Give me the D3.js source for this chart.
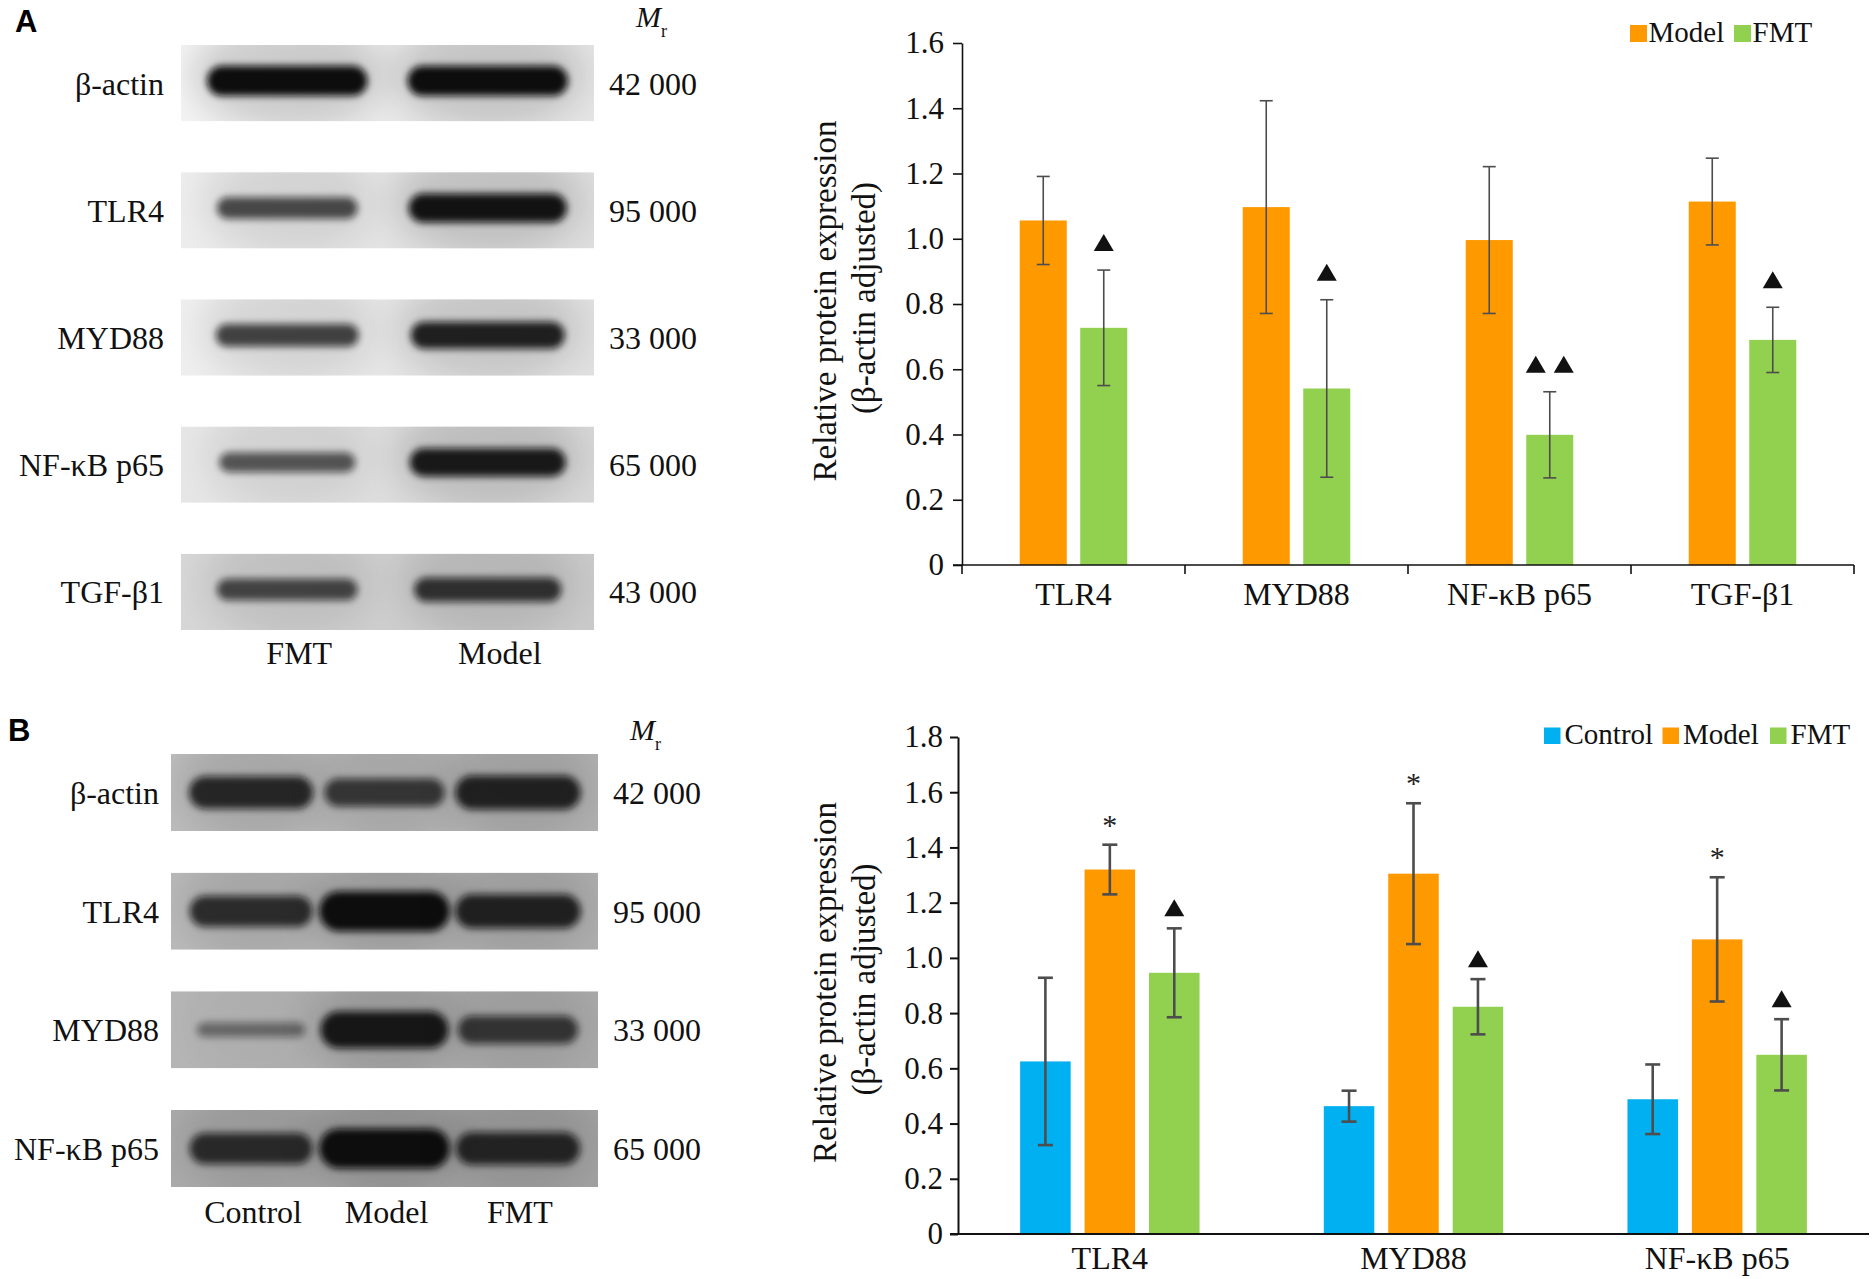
<!DOCTYPE html>
<html>
<head>
<meta charset="utf-8">
<script src="https://cdn.jsdelivr.net/npm/d3@7"></script>
<style>
  body { margin: 0; background: #fff; overflow: hidden; }
  svg { display: block; font-family: "Liberation Serif", "Times New Roman", serif; }
</style>
</head>
<body>
<script>
// ---- Panel A data ----
var catsA = ["TLR4", "MYD88", "NF-κB p65", "TGF-β1"];
var seriesA = ["Model", "FMT"];
var modelA = [1.056, 1.097, 0.996, 1.114];
var modelErrA = [0.135, 0.326, 0.225, 0.133];
var fmtA = [0.727, 0.541, 0.399, 0.690];
var fmtErrA = [0.177, 0.272, 0.132, 0.100];
var marksA = [["", "", "", ""], ["▲", "▲", "▲▲", "▲"]];
var ticksA = [0, 0.2, 0.4, 0.6, 0.8, 1.0, 1.2, 1.4, 1.6];

// ---- Panel B data ----
var catsB = ["TLR4", "MYD88", "NF-κB p65"];
var seriesB = ["Control", "Model", "FMT"];
var controlB = [0.625, 0.463, 0.488];
var controlErrB = [0.303, 0.056, 0.126];
var modelB = [1.320, 1.305, 1.067];
var modelErrB = [0.090, 0.255, 0.225];
var fmtB = [0.946, 0.823, 0.649];
var fmtErrB = [0.161, 0.100, 0.129];
var marksB = [["", "", ""], ["*", "*", "*"], ["▲", "▲", "▲"]];
var ticksB = [0, 0.2, 0.4, 0.6, 0.8, 1.0, 1.2, 1.4, 1.6, 1.8];

// ---- Western blots (relative band strength per lane) ----
var blotLanesA = ["FMT", "Model"];
var blotRowsA = ["β-actin", "TLR4", "MYD88", "NF-κB p65", "TGF-β1"];
var blotMrA = ["42 000", "95 000", "33 000", "65 000", "43 000"];
var bandsA = [[1.0, 1.0], [0.55, 0.95], [0.6, 0.85], [0.45, 0.9], [0.55, 0.7]];
var blotLanesB = ["Control", "Model", "FMT"];
var blotRowsB = ["β-actin", "TLR4", "MYD88", "NF-κB p65"];
var blotMrB = ["42 000", "95 000", "33 000", "65 000"];
var bandsB = [[0.75, 0.6, 0.8], [0.7, 1.0, 0.8], [0.15, 0.9, 0.6], [0.7, 1.0, 0.75]];

var colors = { Control: "#00B0F0", Model: "#FF9900", FMT: "#92D050" };

var W = 1874, H = 1279;
var svg = d3.select("body").append("svg")
    .attr("width", W)
    .attr("height", H);

var defs = svg.append("defs");
defs.append("filter").attr("id", "blur")
    .attr("x", "-30%").attr("y", "-100%").attr("width", "160%").attr("height", "300%")
    .append("feGaussianBlur").attr("stdDeviation", 3.5);
defs.append("filter").attr("id", "haze")
    .attr("x", "-50%").attr("y", "-100%").attr("width", "200%").attr("height", "300%")
    .append("feGaussianBlur").attr("stdDeviation", 16);

// Panel letters
svg.append("text").attr("x", 15).attr("y", 32)
    .style("font-family", "'Liberation Sans', Arial, sans-serif")
    .style("font-weight", "bold").style("font-size", "31px").text("A");
svg.append("text").attr("x", 8).attr("y", 741)
    .style("font-family", "'Liberation Sans', Arial, sans-serif")
    .style("font-weight", "bold").style("font-size", "31px").text("B");

// ---- Blot drawing ----
function drawBlot(cfg) {
    var g = svg.append("g");
    var y = d3.scaleBand().domain(cfg.rows).range(cfg.yRange).paddingInner(cfg.rowPad);
    var x = d3.scalePoint().domain(cfg.lanes).range(cfg.xRange).padding(cfg.lanePad);
    var bw = d3.scaleLinear().domain([0, 1]).range(cfg.bandW.map(function(f) { return f * x.step(); }));
    var bh = d3.scaleLinear().domain([0, 1]).range(cfg.bandH);
    var op = d3.scaleLinear().domain([0, 1]).range([0.35, 1]);
    var left = cfg.xRange[0], width = cfg.xRange[1] - cfg.xRange[0];

    cfg.rows.forEach(function(r, i) {
        var id = cfg.id + "clip" + i;
        defs.append("clipPath").attr("id", id).append("rect")
            .attr("x", left).attr("y", y(r)).attr("width", width).attr("height", y.bandwidth());

        var grad = defs.append("linearGradient").attr("id", cfg.id + "bg" + i);
        var base = d3.color(cfg.bg[i]);
        grad.append("stop").attr("offset", "0%").attr("stop-color", base.brighter(0.12));
        grad.append("stop").attr("offset", "50%").attr("stop-color", base);
        grad.append("stop").attr("offset", "100%").attr("stop-color", base.darker(0.06));

        var rg = g.append("g").attr("clip-path", "url(#" + id + ")");
        rg.append("rect")
            .attr("x", left).attr("y", y(r))
            .attr("width", width).attr("height", y.bandwidth())
            .style("fill", "url(#" + cfg.id + "bg" + i + ")");

        var cy = y(r) + y.bandwidth() * cfg.bandPos;
        cfg.bands[i].forEach(function(v, j) {
            var cx = x(cfg.lanes[j]);
            rg.append("ellipse")
                .attr("cx", cx).attr("cy", cy - 6)
                .attr("rx", bw(v) * 0.6).attr("ry", y.bandwidth() * 0.7)
                .style("fill", "#000")
                .style("opacity", cfg.haze * v)
                .attr("filter", "url(#haze)");
            rg.append("rect")
                .attr("x", cx - bw(v) / 2).attr("y", cy - bh(v) / 2)
                .attr("width", bw(v)).attr("height", bh(v))
                .attr("rx", bh(v) / 2)
                .style("fill", "#0b0b0b")
                .style("opacity", op(v))
                .attr("filter", "url(#blur)");
        });

        g.append("text")
            .attr("x", left - cfg.labelGap).attr("y", y(r) + y.bandwidth() / 2)
            .attr("dy", "0.36em").attr("text-anchor", "end")
            .style("font-size", "32px").style("fill", "#111")
            .text(r);
        g.append("text")
            .attr("x", cfg.xRange[1] + cfg.mrGap).attr("y", y(r) + y.bandwidth() / 2)
            .attr("dy", "0.36em")
            .style("font-size", "32px").style("fill", "#111")
            .text(cfg.mr[i]);
    });

    // M_r header
    var mr = g.append("text").attr("x", cfg.mrHead[0]).attr("y", cfg.mrHead[1])
        .style("font-size", "30px").style("fill", "#111");
    mr.append("tspan").style("font-style", "italic").text("M");
    mr.append("tspan").attr("dy", 10).style("font-size", "18px").text("r");

    // lane labels
    g.selectAll(".lane").data(cfg.lanes).enter().append("text")
        .attr("x", function(d) { return x(d) + cfg.laneShift; })
        .attr("y", cfg.laneY)
        .attr("text-anchor", "middle")
        .style("font-size", "32px").style("fill", "#111")
        .text(function(d) { return d; });
}

drawBlot({
    id: "a", rows: blotRowsA, lanes: blotLanesA, mr: blotMrA, bands: bandsA,
    yRange: [45, 630], rowPad: 0.4, xRange: [181, 594], lanePad: 0.53,
    bandW: [0.58, 0.8], bandH: [11, 30], bandPos: 0.47, haze: 0.14,
    bg: ["#e9e9e9", "#e2e2e2", "#e4e4e4", "#dcdcdc", "#cdcdcd"],
    labelGap: 17, mrGap: 15, mrHead: [636, 27], laneY: 664, laneShift: 12
});
drawBlot({
    id: "b", rows: blotRowsB, lanes: blotLanesB, mr: blotMrB, bands: bandsB,
    yRange: [754, 1187], rowPad: 0.35, xRange: [171, 598], lanePad: 0.6,
    bandW: [0.78, 0.98], bandH: [10, 40], bandPos: 0.5, haze: 0.12,
    bg: ["#b4b4b4", "#b2b2b2", "#adadad", "#a4a4a4"],
    labelGap: 12, mrGap: 15, mrHead: [630, 740], laneY: 1223, laneShift: 2
});

// ---- Bar chart drawing ----
function triangle(cx, bottom) {
    return "M" + (cx - 10) + "," + bottom + "L" + (cx + 10) + "," + bottom + "L" + cx + "," + (bottom - 17) + "Z";
}

function drawChart(cfg) {
    var g = svg.append("g");
    var x0 = d3.scaleBand().domain(cfg.cats).range(cfg.xRange);
    var x1 = d3.scaleBand().domain(cfg.series).range([0, x0.bandwidth()])
        .paddingInner(cfg.pi).paddingOuter(cfg.po);
    var y = d3.scaleLinear().domain([0, cfg.max]).range(cfg.yRange);

    var rows = [];
    cfg.cats.forEach(function(c, i) {
        cfg.series.forEach(function(s, k) {
            rows.push({ c: c, s: s, v: cfg.values[k][i], e: cfg.errs[k][i], m: cfg.marks[k][i] });
        });
    });

    // bars
    g.selectAll(".bar").data(rows).enter().append("rect")
        .attr("class", "bar")
        .attr("x", function(d) { return x0(d.c) + x1(d.s); })
        .attr("y", function(d) { return y(d.v); })
        .attr("width", x1.bandwidth())
        .attr("height", function(d) { return y(0) - y(d.v); })
        .style("fill", function(d) { return colors[d.s]; });

    // error bars
    var eb = g.selectAll(".err").data(rows).enter().append("g")
        .attr("class", "err")
        .style("stroke", "#4d4d4d").style("stroke-width", cfg.errW);
    function cx(d) { return x0(d.c) + x1(d.s) + x1.bandwidth() / 2; }
    eb.append("line")
        .attr("x1", cx).attr("x2", cx)
        .attr("y1", function(d) { return y(d.v + d.e); })
        .attr("y2", function(d) { return y(d.v - d.e); });
    eb.append("line")
        .attr("x1", function(d) { return cx(d) - cfg.cap; })
        .attr("x2", function(d) { return cx(d) + cfg.cap; })
        .attr("y1", function(d) { return y(d.v + d.e); })
        .attr("y2", function(d) { return y(d.v + d.e); });
    eb.append("line")
        .attr("x1", function(d) { return cx(d) - cfg.cap; })
        .attr("x2", function(d) { return cx(d) + cfg.cap; })
        .attr("y1", function(d) { return y(d.v - d.e); })
        .attr("y2", function(d) { return y(d.v - d.e); });

    // significance marks
    rows.forEach(function(d) {
        var top = y(d.v + d.e);
        if (d.m === "*") {
            g.append("text").attr("x", cx(d)).attr("y", top - 10)
                .attr("text-anchor", "middle")
                .style("font-size", "30px").style("fill", "#222").text("*");
        } else if (d.m === "▲") {
            g.append("path").attr("d", triangle(cx(d), top - cfg.triGap)).style("fill", "#111");
        } else if (d.m === "▲▲") {
            g.append("path").attr("d", triangle(cx(d) - 14, top - cfg.triGap)).style("fill", "#111");
            g.append("path").attr("d", triangle(cx(d) + 14, top - cfg.triGap)).style("fill", "#111");
        }
    });

    // y axis
    var ya = g.append("g")
        .attr("transform", "translate(" + cfg.xRange[0] + ",0)")
        .call(d3.axisLeft(y).tickValues(cfg.ticks).tickSizeInner(cfg.tick).tickSizeOuter(0)
            .tickPadding(cfg.tickPad)
            .tickFormat(function(d) { return d === 0 ? "0" : d3.format(".1f")(d); }));
    ya.select(".domain").style("stroke", "#111").style("stroke-width", cfg.axisW);
    ya.selectAll(".tick line").style("stroke", "#111").style("stroke-width", cfg.axisW);
    ya.selectAll(".tick text")
        .style("font-family", "'Liberation Serif', 'Times New Roman', serif")
        .style("font-size", "31px").style("fill", "#111");

    // x axis line
    g.append("line")
        .attr("x1", cfg.xRange[0] - cfg.tick).attr("x2", cfg.xRange[1])
        .attr("y1", y(0)).attr("y2", y(0))
        .style("stroke", "#111").style("stroke-width", cfg.axisW);
    if (cfg.xTicks) {
        var edges = cfg.cats.map(function(c) { return x0(c); }).concat([cfg.xRange[1]]);
        g.selectAll(".xt").data(edges).enter().append("line")
            .attr("x1", function(d) { return d; }).attr("x2", function(d) { return d; })
            .attr("y1", y(0)).attr("y2", y(0) + 9)
            .style("stroke", "#111").style("stroke-width", cfg.axisW);
    }
    g.selectAll(".cat").data(cfg.cats).enter().append("text")
        .attr("x", function(d) { return x0(d) + x0.bandwidth() / 2; })
        .attr("y", cfg.catY)
        .attr("text-anchor", "middle")
        .style("font-size", "32px").style("fill", "#111")
        .text(function(d) { return d; });

    // y title
    var mid = (cfg.yRange[0] + cfg.yRange[1]) / 2 - 3;
    g.append("text")
        .attr("transform", "translate(836," + mid + ") rotate(-90)")
        .attr("text-anchor", "middle")
        .style("font-size", "33px").style("fill", "#111")
        .text("Relative protein expression");
    g.append("text")
        .attr("transform", "translate(875," + (mid - 3) + ") rotate(-90)")
        .attr("text-anchor", "middle")
        .style("font-size", "33px").style("fill", "#111")
        .text("(β-actin adjusted)");

    // legend
    var lg = g.selectAll(".lg").data(cfg.series).enter().append("g").attr("class", "lg");
    lg.append("rect")
        .attr("x", function(d, i) { return cfg.legX[i]; })
        .attr("y", cfg.legY - cfg.legSq)
        .attr("width", cfg.legSq).attr("height", cfg.legSq)
        .style("fill", function(d) { return colors[d]; });
    lg.append("text")
        .attr("x", function(d, i) { return cfg.legX[i] + cfg.legSq + cfg.legGap; })
        .attr("y", cfg.legY)
        .style("font-size", "29px").style("fill", "#111")
        .text(function(d) { return d; });
}

drawChart({
    cats: catsA, series: seriesA,
    values: [modelA, fmtA], errs: [modelErrA, fmtErrA], marks: marksA,
    max: 1.6, ticks: ticksA,
    xRange: [962, 1854], yRange: [565, 43],
    pi: 0.223, po: 0.954,
    errW: 1.6, cap: 6.5, triGap: 19,
    tick: 9, tickPad: 9, axisW: 1.6, xTicks: true, catY: 605,
    legX: [1630, 1734], legY: 42, legSq: 17, legGap: 1.5
});
drawChart({
    cats: catsB, series: seriesB,
    values: [controlB, modelB, fmtB], errs: [controlErrB, modelErrB, fmtErrB], marks: marksB,
    max: 1.8, ticks: ticksB,
    xRange: [958, 1869], yRange: [1234, 737],
    pi: 0.216, po: 0.964,
    errW: 2.6, cap: 7.5, triGap: 12,
    tick: 8, tickPad: 7, axisW: 2, xTicks: false, catY: 1269,
    legX: [1544, 1662.5, 1770], legY: 744, legSq: 16.5, legGap: 4
});
</script>
</body>
</html>
